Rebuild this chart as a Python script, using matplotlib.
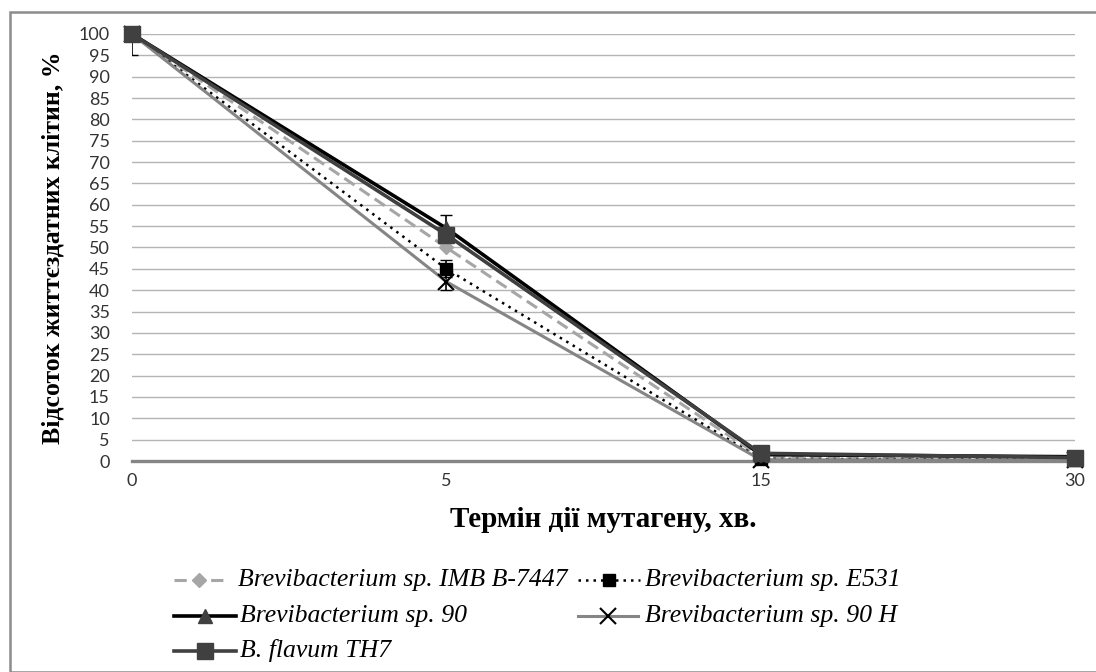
import matplotlib.pyplot as plt
from matplotlib.lines import Line2D
from matplotlib.patches import Rectangle

# exposure time categories (min) and survival, %
times = ['0', '5', '15', '30']
imb_b7447 = [100, 50, 1.0, 0.5]
e531 = [100, 45, 0.5, 0.3]
sp90 = [100, 54.5, 1.5, 1.0]
sp90h = [100, 42, 0.3, 0.2]
th7 = [100, 53, 1.8, 0.8]

e531_err = [0, 2, 0, 0]
sp90_err = [5, 3, 0, 0]
sp90h_err = [0, 2, 0, 0]

names = ['Brevibacterium sp. IMB B-7447', 'Brevibacterium sp. E531',
         'Brevibacterium sp. 90', 'Brevibacterium sp. 90 H', 'B. flavum TH7']

styles = [
    dict(color='#a6a6a6', lw=2.2, ls=(0, (4, 2)), marker='D', ms=7, mfc='#a6a6a6', mec='#a6a6a6'),
    dict(color='black', lw=1.8, ls=(0, (1, 2)), marker='s', ms=9, mfc='black', mec='black'),
    dict(color='black', lw=2.6, marker='^', ms=10, mfc='#404040', mec='#404040'),
    dict(color='#858585', lw=2.2, marker='x', ms=12, mew=1.5, mec='black'),
    dict(color='#404040', lw=2.6, marker='s', ms=11, mfc='#404040', mec='#404040'),
]

W, H = 1096, 672
fig = plt.figure(figsize=(W / 100, H / 100), dpi=100)
ax = fig.add_axes([132 / W, 1 - 461 / H, (1075 - 132) / W, (461 - 34) / H])

x = list(range(len(times)))
series = [imb_b7447, e531, sp90, sp90h, th7]
errs = [None, e531_err, sp90_err, sp90h_err, None]

for i, (y, err, st) in enumerate(zip(series, errs, styles)):
    if err is not None:
        ax.errorbar(x, y, yerr=err, fmt='none', ecolor='black', elinewidth=1.2,
                    capsize=4, zorder=3 + i)
    ax.plot(x, y, clip_on=False, zorder=3 + i, **st)

ax.set_xlim(0, 3)
ax.set_ylim(0, 100)
ax.set_xticks(x)
ax.set_xticklabels(times)
ax.set_yticks(range(0, 101, 5))

for s in ['top', 'right', 'left']:
    ax.spines[s].set_visible(False)
ax.spines['bottom'].set_color('#868686')
ax.spines['bottom'].set_linewidth(2.4)
ax.spines['bottom'].set_zorder(2.5)

ax.grid(axis='y', color='#b4b4b4', lw=1)
ax.set_axisbelow(True)
ax.tick_params(length=0, labelsize=13, labelcolor='#333333')
ax.tick_params(axis='y', pad=16)
ax.tick_params(axis='x', pad=9)
for t in ax.get_xticklabels() + ax.get_yticklabels():
    t.set_family('Lato')

ax.set_xlabel('Термін дії мутагену, хв.', family='Liberation Serif',
              fontweight='bold', fontsize=21, labelpad=12)
ax.set_ylabel('Відсоток життєздатних клітин, %', family='Liberation Serif',
              fontweight='bold', fontsize=18.5, labelpad=10)

# legend laid out row by row: (handle start, handle end, text start, row y) in pixels
legend_pos = [(174, 224, 238, 580), (578, 640, 645, 580),
              (174, 236, 240, 616), (578, 638, 645, 616),
              (174, 236, 240, 651)]
for name, st, (x0, x1, tx, ry) in zip(names, styles, legend_pos):
    yy = 1 - ry / H
    handle = Line2D([x0 / W, (x0 + x1) / 2 / W, x1 / W], [yy] * 3,
                    transform=fig.transFigure, markevery=[1], **st)
    fig.add_artist(handle)
    fig.text(tx / W, yy, name, family='Liberation Serif', style='italic',
             fontsize=18.5, va='center', ha='left')

# outer chart frame
fig.patches.append(Rectangle((10 / W, 0), 1.2, 1 - 12 / H, transform=fig.transFigure,
                             fill=False, ec='#8c8c8c', lw=1.8))

fig.savefig('out.png', dpi=100)
